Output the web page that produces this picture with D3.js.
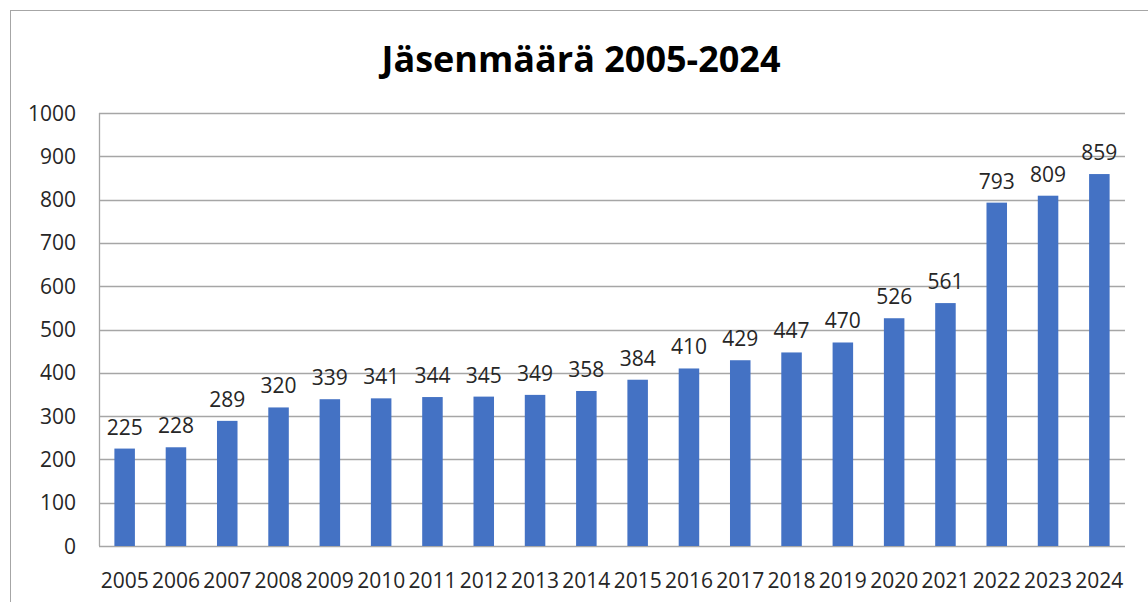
<!DOCTYPE html>
<html>
<head>
<meta charset="utf-8">
<script src="https://cdn.jsdelivr.net/npm/d3@7"></script>
<style>
  body { margin: 0; background: #fff; }
  svg { display: block; font-family: "Open Sans", "Liberation Sans", sans-serif; }
</style>
</head>
<body>
<svg width="1148" height="602"></svg>
<script>
const years = ["2005","2006","2007","2008","2009","2010","2011","2012","2013","2014",
               "2015","2016","2017","2018","2019","2020","2021","2022","2023","2024"];
const members = [225,228,289,320,339,341,344,345,349,358,384,410,429,447,470,526,561,793,809,859];
const yTicks = [0,100,200,300,400,500,600,700,800,900,1000];
const title = "Jäsenmäärä 2005-2024";

const svg = d3.select("svg");

// chart frame
svg.append("rect")
    .attr("x", 10.5).attr("y", 10.5)
    .attr("width", 1160).attr("height", 620)
    .attr("fill", "none")
    .attr("stroke", "#a6a6a6");

const plotLeft = 99, plotRight = 1125, plotTop = 113, plotBottom = 546;

const x = d3.scaleBand().domain(years).range([plotLeft, plotRight]).paddingInner(0.6).paddingOuter(0.3);
const y = d3.scaleLinear().domain([0, 1000]).range([plotBottom, plotTop]);

// gridlines
svg.append("g")
    .selectAll("line")
    .data(yTicks)
    .enter()
    .append("line")
    .attr("x1", plotLeft).attr("x2", plotRight)
    .attr("y1", d => Math.round(y(d)) + 0.5)
    .attr("y2", d => Math.round(y(d)) + 0.5)
    .attr("stroke", "#a6a6a6")
    .attr("stroke-width", 1.3);

svg.append("line")
    .attr("x1", plotLeft + 0.5).attr("x2", plotLeft + 0.5)
    .attr("y1", plotTop).attr("y2", plotBottom)
    .attr("stroke", "#a6a6a6")
    .attr("stroke-width", 1.3);

// y tick labels
svg.append("g")
    .selectAll("text")
    .data(yTicks)
    .enter()
    .append("text")
    .attr("x", 76)
    .attr("y", d => y(d) + 7.5)
    .attr("text-anchor", "end")
    .attr("font-size", 21)
    .attr("fill", "#262626")
    .text(d => d);

// bars
svg.append("g")
    .selectAll("rect")
    .data(members)
    .enter()
    .append("rect")
    .attr("x", (d, i) => x(years[i]))
    .attr("width", x.bandwidth())
    .attr("y", d => y(d))
    .attr("height", d => y(0) - y(d))
    .attr("fill", "#4472c4");

// data labels
svg.append("g")
    .selectAll("text")
    .data(members)
    .enter()
    .append("text")
    .attr("x", (d, i) => x(years[i]) + x.bandwidth() / 2)
    .attr("y", d => y(d) - 14)
    .attr("text-anchor", "middle")
    .attr("font-size", 21)
    .attr("fill", "#262626")
    .text(d => d);

// x labels
svg.append("g")
    .selectAll("text")
    .data(years)
    .enter()
    .append("text")
    .attr("x", d => x(d) + x.bandwidth() / 2)
    .attr("y", 588)
    .attr("text-anchor", "middle")
    .attr("font-size", 21)
    .attr("fill", "#262626")
    .text(d => d);

// title
svg.append("text")
    .attr("x", 581)
    .attr("y", 72)
    .attr("text-anchor", "middle")
    .attr("font-size", 36)
    .attr("font-weight", "bold")
    .attr("fill", "#000")
    .text(title);
</script>
</body>
</html>
